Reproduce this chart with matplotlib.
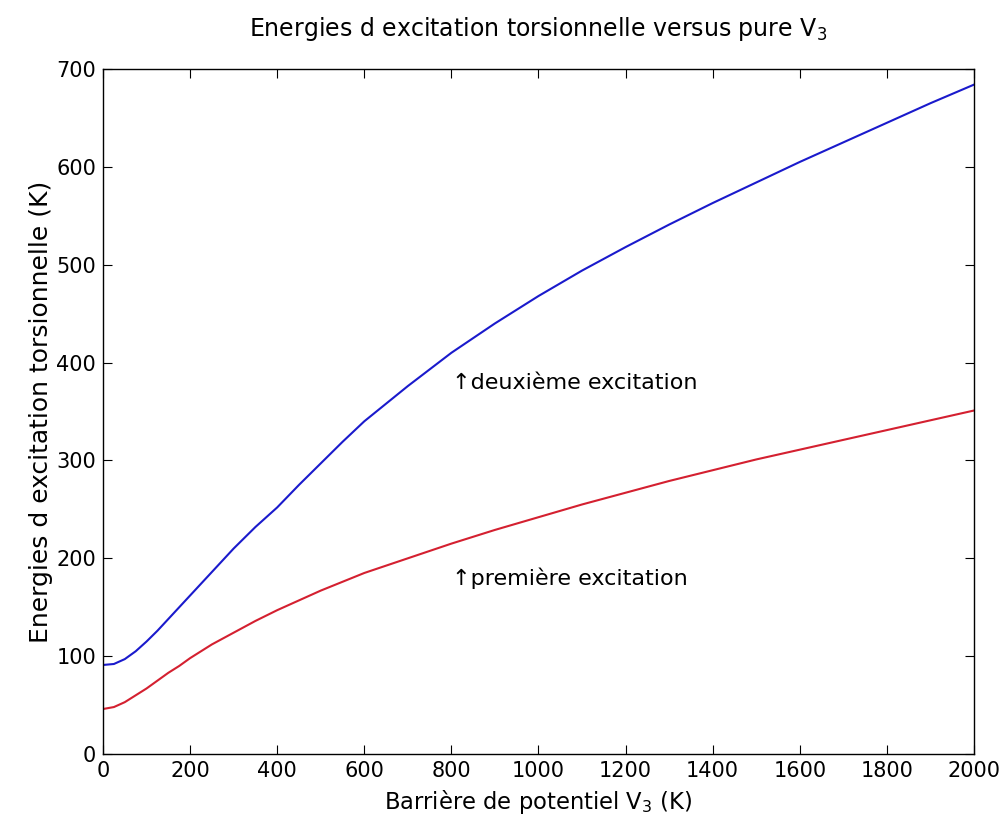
import matplotlib
matplotlib.use('Agg')
import matplotlib.pyplot as plt
import numpy as np

plt.rcParams['font.family'] = ['DejaVu Sans']

# barriere V3 (K)
v3 = [0, 25, 50, 75, 100, 125, 150, 175, 200, 250, 300, 350, 400, 450, 500, 550,
      600, 700, 800, 900, 1000, 1100, 1200, 1300, 1400, 1500, 1600, 1700, 1800,
      1900, 2000]
# deuxieme excitation (K)
e2 = [91, 92, 97, 105, 115, 126, 138, 150, 162, 186, 210, 232, 252, 275, 297, 319,
      340, 376, 410, 440, 468, 494, 518, 541, 563, 584, 605, 625, 645, 665, 684]
# premiere excitation (K)
e1 = [46, 48, 53, 60, 67, 75, 83, 90, 98, 112, 124, 136, 147, 157, 167, 176,
      185, 200, 215, 229, 242, 255, 267, 279, 290, 301, 311, 321, 331, 341, 351]

fig = plt.figure(figsize=(10.07, 8.33), dpi=100)
ax = fig.add_axes([0.1023, 0.0948, 0.8649, 0.8224])

ax.plot(v3, e2, color='#1a1acc', lw=1.5)
ax.plot(v3, e1, color='#d42030', lw=1.5)

ax.text(801, 379, '\u2191deuxième excitation', fontsize=16, va='center', ha='left')
ax.text(801, 180, '\u2191première excitation', fontsize=16, va='center', ha='left')

ax.set_xlim(0, 2000)
ax.set_ylim(0, 700)
ax.set_xticks(np.arange(0, 2001, 200))
ax.set_yticks(np.arange(0, 701, 100))
ax.tick_params(direction='in', top=True, right=True, labelsize=15, length=6.5, pad=5)
for s in ax.spines.values():
    s.set_linewidth(1.0)

ax.set_title('Energies d excitation torsionnelle versus pure V$_3$', fontsize=17, pad=24)
ax.set_xlabel('Barrière de potentiel V$_3$ (K)', fontsize=16.3, labelpad=5)
ax.set_ylabel('Energies d excitation torsionnelle (K)', fontsize=18, labelpad=2)

fig.savefig('out.png', dpi=100)
